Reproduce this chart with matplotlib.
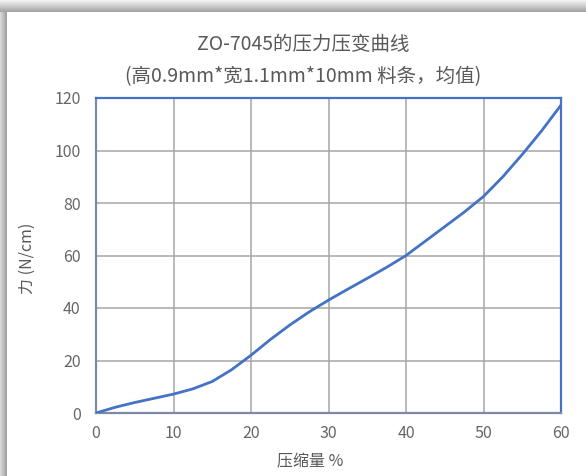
import numpy as np
import matplotlib
matplotlib.use("Agg")
import matplotlib.pyplot as plt

plt.rcParams['font.family'] = ['Noto Sans CJK SC', 'DejaVu Sans']

strain = [0, 2.5, 5, 7.5, 10, 12.5, 15, 17.5, 20, 22.5, 25, 27.5, 30,
          32.5, 35, 37.5, 40, 42.5, 45, 47.5, 50, 52.5, 55, 57.5, 60]
force = [0, 2.2, 4.0, 5.6, 7.2, 9.2, 12.0, 16.5, 22.0, 28.0, 33.5, 38.5, 43.0,
         47.2, 51.3, 55.5, 60.0, 65.5, 71.0, 76.5, 82.5, 90.0, 98.5, 107.5, 117.3]
x_ticks = [0, 10, 20, 30, 40, 50, 60]
y_ticks = [0, 20, 40, 60, 80, 100, 120]
title1 = "ZO-7045的压力压变曲线"
title2 = "(高0.9mm*宽1.1mm*10mm 料条，均值)"
xlabel = "压缩量 %"
ylabel = "力 (N/cm)"

W, H = 586, 476
fig = plt.figure(figsize=(W / 100, H / 100), dpi=100)

# frame shadow background
bg = np.ones((H, W, 3))
top_n, left_n = 12, 7
for i in range(top_n):
    v = 0.95 - 0.30 * (i / (top_n - 1))
    bg[H - 1 - i, :, :] = v
for j in range(left_n):
    v = 0.85 - 0.22 * (j / (left_n - 1))
    bg[:H - top_n, j, :] = np.minimum(bg[:H - top_n, j, :], v)
fig.figimage(bg, xo=0, yo=0, origin='lower', zorder=-10)

ax = fig.add_axes([96 / W, 63 / H, 465 / W, 315 / H])
ax.set_facecolor('white')
ax.plot(strain, force, color='#4472C4', lw=2.0, zorder=3, solid_capstyle='round')

ax.set_xlim(0, 60)
ax.set_ylim(0, 120)
ax.set_xticks(x_ticks)
ax.set_yticks(y_ticks)
ax.grid(True, color='#A6A6A6', lw=1.1, zorder=0)
ax.set_axisbelow(True)
ax.tick_params(length=0, labelsize=11.5, labelcolor='#666666')
ax.tick_params(axis='y', pad=11)
ax.tick_params(axis='x', pad=9)

for s in ['left', 'bottom']:
    ax.spines[s].set_color('#7d8aa5')
    ax.spines[s].set_linewidth(1.6)
for s in ['top', 'right']:
    ax.spines[s].set_color('#4472C4')
    ax.spines[s].set_linewidth(1.6)

fig.text(303 / W, 1 - 44 / H, title1, ha='center', va='center', fontsize=14, color='#595959')
fig.text(303 / W, 1 - 77 / H, title2, ha='center', va='center', fontsize=14, color='#595959')
fig.text(310 / W, 1 - 462 / H, xlabel, ha='center', va='center', fontsize=11.5, color='#595959')
fig.text(27 / W, 1 - 258 / H, ylabel, ha='center', va='center', rotation=90, fontsize=11.5, color='#595959')

fig.savefig('out.png', dpi=100)
